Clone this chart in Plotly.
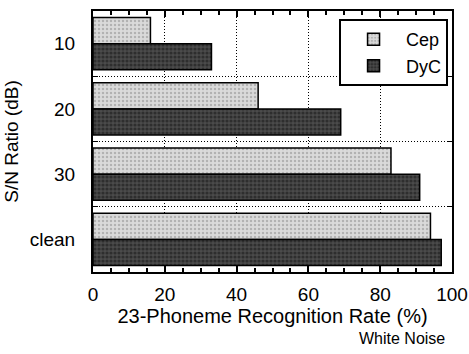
import plotly.graph_objects as go

categories = ["10", "20", "30", "clean"]
cep = [16, 46, 83, 94]
dyc = [33, 69, 91, 97]
series_names = ["Cep", "DyC"]
x_ticks = [0, 20, 40, 60, 80, 100]

font_family = "Liberation Sans, Arial, Helvetica, sans-serif"

fig = go.Figure()
fig.add_trace(go.Bar(
    y=categories, x=cep, orientation="h", name=series_names[0],
    marker=dict(color="#d4d4d4", line=dict(color="black", width=1.5),
                pattern=dict(shape=".", fgcolor="#8a8a8a", bgcolor="#dadada", size=4, solidity=0.3)),
))
fig.add_trace(go.Bar(
    y=categories, x=dyc, orientation="h", name=series_names[1],
    marker=dict(color="#2a2a2a", line=dict(color="black", width=1.5),
                pattern=dict(shape=".", fgcolor="#111111", bgcolor="#4a4a4a", size=4, solidity=0.5)),
))

fig.update_layout(
    width=469, height=354,
    margin=dict(l=93, r=17, t=11, b=82),
    paper_bgcolor="white", plot_bgcolor="white",
    barmode="group", bargap=0.2, bargroupgap=0.0,
    font=dict(family=font_family, color="black", size=19),
    showlegend=True,
    legend=dict(x=0.989, y=0.969, xanchor="right", yanchor="top",
                bordercolor="black", borderwidth=2, bgcolor="white",
                font=dict(size=18), itemwidth=55, tracegroupgap=0),
    annotations=[dict(text="White Noise", xref="paper", yref="paper",
                      x=0.986, y=-0.216, xanchor="right", yanchor="top",
                      showarrow=False, font=dict(size=16))],
)
fig.update_xaxes(
    range=[0, 100], tickvals=x_ticks, ticks="inside", ticklen=6, tickwidth=1.5,
    tickcolor="black", showline=True, linecolor="black", linewidth=2, mirror="ticks",
    showgrid=True, gridcolor="black", griddash="1px,2px", gridwidth=1,
    minor=dict(dtick=5, ticks="inside", ticklen=4, tickcolor="black", showgrid=False),
    zeroline=False, tickfont=dict(size=19), ticklabelstandoff=4, automargin=False,
    title=dict(text="23-Phoneme Recognition Rate (%)", font=dict(size=20), standoff=0),
)
fig.update_yaxes(
    categoryorder="array", categoryarray=categories, autorange="reversed",
    tickson="boundaries", ticks="inside", ticklen=5, tickcolor="black",
    showline=True, linecolor="black", linewidth=2, mirror="ticks",
    showgrid=True, gridcolor="black", griddash="1px,2px", gridwidth=1,
    tickfont=dict(size=19), ticklabelstandoff=12, automargin=False,
    title=dict(text="S/N Ratio (dB)", font=dict(size=19), standoff=6),
)

fig.write_html("out.html")
